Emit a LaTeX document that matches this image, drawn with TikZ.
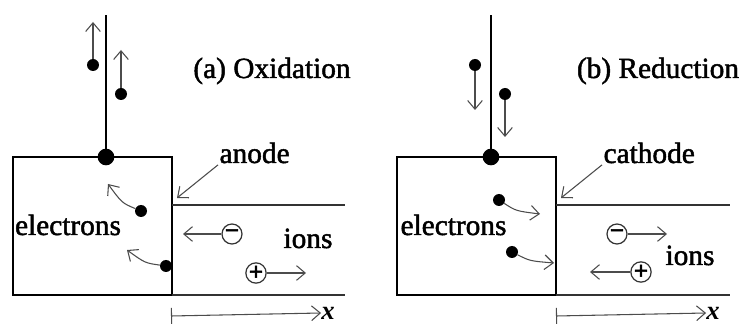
\documentclass[tikz,border=0pt]{standalone}
\usepackage{fontspec}
\setmainfont{Liberation Serif}
\newfontfamily\rotulo{Liberation Serif}[FakeBold=1.6]
\newfontfamily\sinal{Liberation Serif}[FakeBold=2.5]
\usetikzlibrary{arrows.meta}

\begin{document}
\begin{tikzpicture}[x=0.75pt, y=-0.75pt,
    every node/.style={font=\rotulo\fontsize{22}{24}\selectfont, inner sep=1pt},
    caixa/.style={line width=1.4pt},
    fio/.style={line width=1.2pt},
    eletrolito/.style={draw=black!80, line width=1.1pt},
    seta/.style={draw=black!70, line width=0.8pt, -{Straight Barb[length=6.5pt, width=11pt]}},
    ponto/.style={circle, fill, inner sep=0pt, minimum size=9pt},
    juncao/.style={circle, fill, inner sep=0pt, minimum size=12.5pt},
    ion/.style={circle, draw=black!80, line width=0.9pt, inner sep=0pt, minimum size=15pt,
        font=\sinal\fontsize{19}{19}\selectfont\bfseries},
    eixo/.style={draw=black!70, line width=0.8pt, {Bar[width=12pt]}-{Straight Barb[length=6.5pt, width=11pt]}},
    varx/.style={font=\fontsize{20}{22}\selectfont\bfseries\itshape, inner sep=0pt}]
    \useasboundingbox (0,0) rectangle (744,324);

    % ===== (a) Oxidação =====
    % Eléctrodo e electrólito
    \draw[caixa] (12.7,157) rectangle (172,295);
    \draw[eletrolito] (172,205) -- (345,205);
    \draw[eletrolito] (172,295) -- (345,295);

    % Fio
    \node[juncao] (ja) at (106,157) {};
    \coordinate (fa) at (106,15);
    \draw[fio] (ja.center) -- (fa);

    % Electrões a subir no fio
    \node[ponto] (ea1) at (93,65) {};
    \node[ponto] (ea2) at (121,94) {};
    \coordinate (sa1) at (93,22);
    \coordinate (sa2) at (121,50);
    \draw[seta] (ea1) -- (sa1);
    \draw[seta] (ea2) -- (sa2);

    % Electrões no eléctrodo
    \node[ponto] (ea3) at (141,211) {};
    \node[ponto] (ea4) at (166,266) {};
    \coordinate (sa3) at (108,184);
    \coordinate (sa4) at (127,250);
    \draw[seta] (ea3) .. controls (122,203) .. (sa3);
    \draw[seta] (ea4) .. controls (145,263) .. (sa4);

    % Iões
    \node[ion] (na) at (232,234) {−};
    \node[ion] (pa) at (256,273) {+};
    \coordinate (sna) at (183,234);
    \coordinate (spa) at (306,273);
    \draw[seta] (na) -- (sna);
    \draw[seta] (pa) -- (spa);

    % Textos
    \node[anchor=base] (ta) at (272,78) {(a) Oxidation};
    \node[anchor=base] (ela) at (68,235) {electrons};
    \node[anchor=base] (ia) at (308,248) {ions};
    \node[anchor=base west] (an) at (218,163) {anode};
    \coordinate (pan) at (177,198);
    \draw[seta] (an.south west) -- (pan);

    % Eixo x
    \coordinate (xa0) at (171,316);
    \node[varx] (xa) at (328,313) {x};
    \draw[eixo] (xa0) -- (xa.west);

    % ===== (b) Redução =====
    % Eléctrodo e electrólito
    \draw[caixa] (397,157) rectangle (556,295);
    \draw[eletrolito] (556,205) -- (730,205);
    \draw[eletrolito] (556,295) -- (730,295);

    % Fio
    \node[juncao] (jb) at (491,157) {};
    \coordinate (fb) at (491,15);
    \draw[fio] (jb.center) -- (fb);

    % Electrões a descer no fio
    \node[ponto] (eb1) at (475,65) {};
    \node[ponto] (eb2) at (505,94) {};
    \coordinate (sb1) at (475,110);
    \coordinate (sb2) at (505,137);
    \draw[seta] (eb1) -- (sb1);
    \draw[seta] (eb2) -- (sb2);

    % Electrões no eléctrodo
    \node[ponto] (eb3) at (499,200) {};
    \node[ponto] (eb4) at (512,252) {};
    \coordinate (sb3) at (540,214);
    \coordinate (sb4) at (554,263);
    \draw[seta] (eb3) .. controls (516,211) .. (sb3);
    \draw[seta] (eb4) .. controls (530,261) .. (sb4);

    % Iões
    \node[ion] (nb) at (617,234) {−};
    \node[ion] (pb) at (641,272) {+};
    \coordinate (snb) at (667,234);
    \coordinate (spb) at (590,272);
    \draw[seta] (nb) -- (snb);
    \draw[seta] (pb) -- (spb);

    % Textos
    \node[anchor=base] (tb) at (658,78) {(b) Reduction};
    \node[anchor=base] (elb) at (453.5,235) {electrons};
    \node[anchor=base] (ib) at (690,265) {ions};
    \node[anchor=base west] (ca) at (602,163) {cathode};
    \coordinate (pca) at (561,198);
    \draw[seta] (ca.south west) -- (pca);

    % Eixo x
    \coordinate (xb0) at (556,316);
    \node[varx] (xb) at (713,313) {x};
    \draw[eixo] (xb0) -- (xb.west);
\end{tikzpicture}
\end{document}
